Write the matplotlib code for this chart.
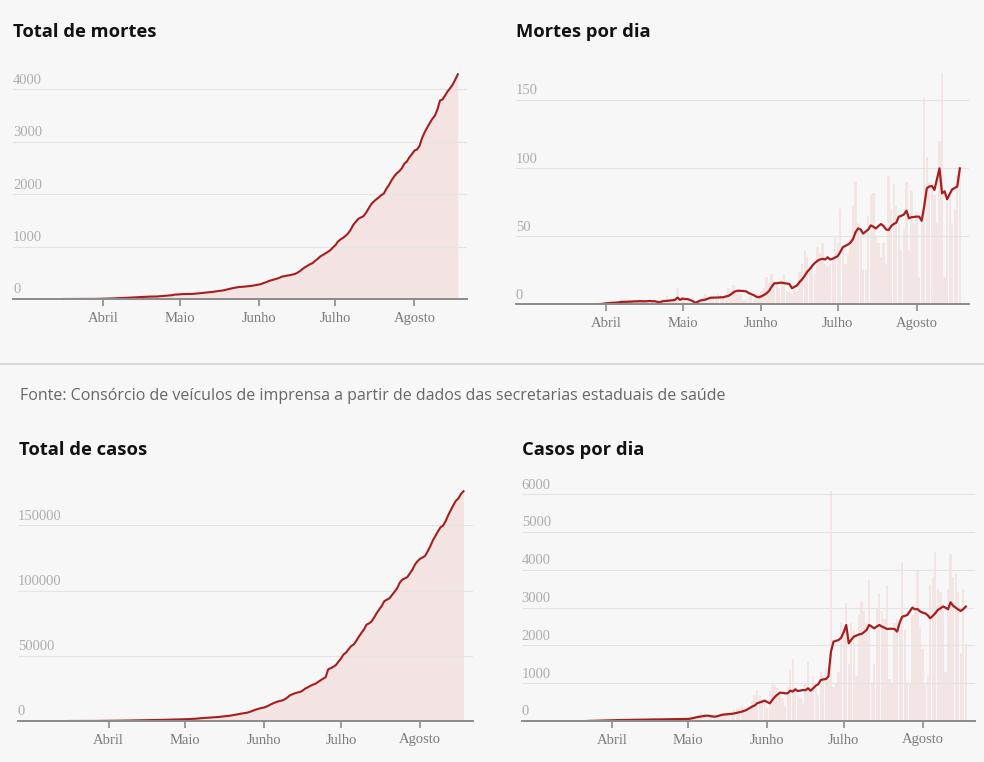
import matplotlib
matplotlib.use('Agg')
import matplotlib.pyplot as plt
import numpy as np
import pandas as pd
from matplotlib.lines import Line2D

inicio = '2020-03-16'
meses = ['Abril', 'Maio', 'Junho', 'Julho', 'Agosto']

# mortes por dia, de 16/03 a 18/08 (semanas de seg a dom)
mortes_dia = [
    0, 0, 0, 0, 0, 0, 0,
    0, 0, 1, 0, 0, 1, 0,
    1, 0, 2, 1, 3, 1, 2,
    2, 3, 2, 1, 3, 2, 3,
    2, 4, 2, 3, 1, 3, 2,
    2, 1, 0, 4, 3, 6, 4,
    3, 5, 12, 1, 4, 3, 2,
    1, 0, 1, 4, 5, 6, 8,
    2, 4, 6, 5, 8, 7, 5,
    7, 12, 10, 14, 9, 11, 8,
    3, 4, 5, 6, 4, 8, 8,
    10, 12, 20, 16, 22, 14, 15,
    12, 18, 22, 10, 9, 8, 12,
    10, 24, 30, 40, 35, 28, 30,
    22, 42, 38, 45, 30, 28, 30,
    35, 50, 45, 70, 40, 30, 38,
    48, 72, 90, 60, 55, 25, 25,
    65, 80, 82, 50, 45, 35, 45,
    30, 94, 70, 88, 72, 60, 40,
    55, 90, 40, 83, 60, 68, 20,
    70, 152, 108, 90, 85, 80, 60,
    120, 170, 20, 75, 80, 60, 70,
    95, 100,
]

# media movel de 7 dias (a partir de 22/03)
mortes_media = [
    0, 0, 0, 0.1, 0.1, 0.1, 0.3, 0.3, 0.4, 0.6, 0.9,
    1.0, 1.1, 1.3, 1.4, 1.6, 1.9, 2.0, 2.0, 2.1, 2.1, 2.3, 2.3, 2.4, 2.4,
    2.3, 2.4, 2.6, 2.4, 2.4, 2.0, 1.6, 2.3, 2.6, 2.7, 2.9, 3.1, 3.4, 5.0, 3.4,
    4.4, 4.0, 3.9, 3.3, 2.4, 1.3, 2.0, 2.9, 3.3, 3.6, 4.3, 5.0, 5.0, 5.1, 5.1,
    5.3, 5.3, 5.9, 6.3, 7.4, 8.9, 9.9, 10.1, 10.0, 9.9, 9.6, 8.4, 7.6, 6.8, 5.7, 5.3,
    6.0, 7.0, 8.2, 10.0, 13.0, 15.5, 15.6, 15.9, 16.0, 15.6, 15.4, 15.0, 11.9, 13.0,
    14.0, 16.5, 18.5, 21.0, 24.0, 26.0, 28.5, 30.5, 32.0, 33.0, 33.5, 33.0, 34.6, 33.0, 33.5,
    34.5, 35.5, 38.5, 42.0, 43.0, 44.0, 45.3, 48.0, 53.0, 55.8, 55.0, 52.0, 53.5, 55.0, 58.0,
    57.0, 55.8, 57.5, 59.0, 57.5, 55.0, 54.6, 57.5, 59.0, 60.0, 64.4, 65.0, 66.0, 68.8, 63.2,
    64.0, 64.2, 64.4, 64.4, 61.4, 72.0, 85.2, 86.5, 86.9, 84.0, 92.0, 99.8, 81.5, 83.0, 77.1,
    81.0, 84.4, 85.5, 86.5, 99.8,
]

casos_dia = [
    0, 0, 1, 0, 2, 1, 3,
    5, 8, 10, 14, 12, 18, 15,
    10, 20, 18, 25, 30, 35, 30,
    20, 28, 32, 35, 40, 38, 30,
    30, 38, 45, 44, 42, 35, 40,
    28, 45, 48, 55, 52, 50, 55,
    40, 55, 60, 58, 62, 80, 90,
    60, 150, 200, 180, 160, 120, 100,
    70, 130, 150, 220, 250, 230, 180,
    180, 300, 350, 380, 420, 330, 300,
    300, 500, 700, 820, 680, 560, 520,
    350, 800, 1000, 950, 880, 700, 600,
    400, 900, 1350, 1650, 900, 700, 600,
    450, 1000, 1560, 900, 1200, 900, 700,
    1300, 1200, 1400, 1100, 6090, 900, 1000,
    1300, 2600, 2400, 3120, 1500, 2600, 2400,
    1200, 2800, 3170, 2900, 2600, 3730, 1000,
    1500, 3000, 3380, 2900, 2700, 3600, 1100,
    1000, 2600, 2700, 2400, 4215, 2400, 1000,
    1000, 2800, 2900, 3990, 2500, 1900, 1000,
    1200, 3600, 3800, 4480, 3500, 3400, 3100,
    1300, 3500, 4420, 3800, 3900, 3400, 1800,
    3500, 2050,
]

casos_media = [
    0, 2, 3, 5, 6, 8, 10, 12, 14, 16, 18,
    20, 22, 24, 26, 27, 28, 30, 31, 32, 33, 34, 34, 35, 36,
    37, 38, 38, 39, 40, 42, 43, 45, 46, 48, 49, 50, 51, 52, 53,
    55, 65, 80, 97, 110, 120, 130, 141, 138, 125, 115, 120, 140, 160, 170,
    176, 180, 190, 200, 215, 230, 247, 270, 300, 340, 379, 410, 468, 490, 515, 538,
    500, 468, 560, 640, 700, 749, 745, 732, 732, 803, 780, 838, 793, 805,
    820, 815, 864, 802, 860, 934, 970, 1085, 1100, 1111, 1173, 1834, 2099, 2120, 2143,
    2200, 2350, 2540, 2055, 2150, 2231, 2260, 2290, 2302, 2350, 2408, 2540, 2500, 2452, 2500,
    2540, 2500, 2470, 2434, 2440, 2440, 2434, 2364, 2600, 2760, 2780, 2805, 2900, 3000, 2955,
    2960, 2900, 2867, 2850, 2800, 2717, 2780, 2850, 2940, 2980, 3028, 3000, 2955, 3140, 3050,
    3000, 2950, 2911, 2960, 3028,
]

ticks_mortes = [0, 1000, 2000, 3000, 4000]
ticks_mortes_dia = [0, 50, 100, 150]
ticks_casos = [0, 50000, 100000, 150000]
ticks_casos_dia = [0, 1000, 2000, 3000, 4000, 5000, 6000]

dias = pd.date_range(inicio, periods=len(mortes_dia))
dias_media = dias[len(dias) - len(mortes_media):]
mortes_total = np.cumsum(mortes_dia)
casos_total = np.cumsum(casos_dia)

fundo = '#f7f7f7'
vermelho = '#a61e1e'
rosa = '#f3e3e3'
rosa_barra = '#f4e5e5'
serif = 'Liberation Serif'

W, H = 984, 762
fig = plt.figure(figsize=(W / 100, H / 100), dpi=100, facecolor=fundo)


def eixo(x0, x1, base, ymax, escala, yticks):
    topo = base - ymax * escala
    ax = fig.add_axes([x0 / W, 1 - base / H, (x1 - x0) / W, (base - topo) / H])
    ax.set_facecolor(fundo)
    for s in ['top', 'right', 'left']:
        ax.spines[s].set_visible(False)
    ax.spines['bottom'].set_color('#8c8c8c')
    ax.spines['bottom'].set_linewidth(1.4)
    ax.spines['bottom'].set_zorder(5)
    ax.set_xlim(dias[0] - pd.Timedelta(days=19.5), dias[0] + pd.Timedelta(days=158.6))
    ax.set_ylim(0, ymax)
    ax.set_yticks([])
    for v in yticks:
        if v > 0:
            ax.axhline(v, color='#e4e4e4', lw=0.8, zorder=2)
        ax.annotate(str(v), xy=(0, v), xycoords=ax.get_yaxis_transform(),
                    xytext=(0, 4), textcoords='offset points', va='baseline',
                    ha='left', color='#adadad', fontsize=10.5, family=serif)
    ax.set_xticks(pd.date_range('2020-04-01', periods=len(meses), freq='MS'))
    ax.set_xticklabels(meses, family=serif, fontsize=10.5, color='#7a7a7a')
    ax.tick_params(axis='x', length=5, width=1.2, color='#8c8c8c', pad=4)
    return ax


def titulo(x, y, s):
    fig.text(x / W, 1 - y / H, s, fontsize=13.2, fontweight='bold',
             family='Open Sans', color='#111111', va='baseline')


# total de mortes
ax1 = eixo(13, 467, 299, 4450, 0.0524, ticks_mortes)
ax1.fill_between(dias, mortes_total, color=rosa, lw=0, zorder=1)
ax1.plot(dias, mortes_total, color=vermelho, lw=1.5, zorder=3)
titulo(13, 37, 'Total de mortes')

# mortes por dia
ax2 = eixo(516, 969, 304.5, 175, 1.364, ticks_mortes_dia)
ax2.bar(dias, mortes_dia, width=0.9, color=rosa_barra, lw=0, zorder=1)
ax2.plot(dias_media, mortes_media, color=vermelho, lw=1.6, zorder=3)
titulo(516, 37, 'Mortes por dia')

# total de casos
ax3 = eixo(18, 472.7, 721, 185000, 0.001304, ticks_casos)
ax3.fill_between(dias, casos_total, color=rosa, lw=0, zorder=1)
ax3.plot(dias, casos_total, color=vermelho, lw=1.5, zorder=3)
titulo(19, 455, 'Total de casos')

# casos por dia
ax4 = eixo(521.7, 975, 721, 6200, 0.0378, ticks_casos_dia)
ax4.bar(dias, casos_dia, width=0.9, color=rosa_barra, lw=0, zorder=1)
ax4.plot(dias_media, casos_media, color=vermelho, lw=1.6, zorder=3)
titulo(522, 455, 'Casos por dia')

fig.add_artist(Line2D([0, 1], [1 - 364 / H] * 2, color='#dadada', lw=1.5))
fig.text(20 / W, 1 - 400 / H,
         'Fonte: Consórcio de veículos de imprensa a partir de dados das secretarias estaduais de saúde',
         fontsize=11.5, family='Open Sans', color='#666666', va='baseline')

fig.savefig('out.png', dpi=100, facecolor=fundo)
